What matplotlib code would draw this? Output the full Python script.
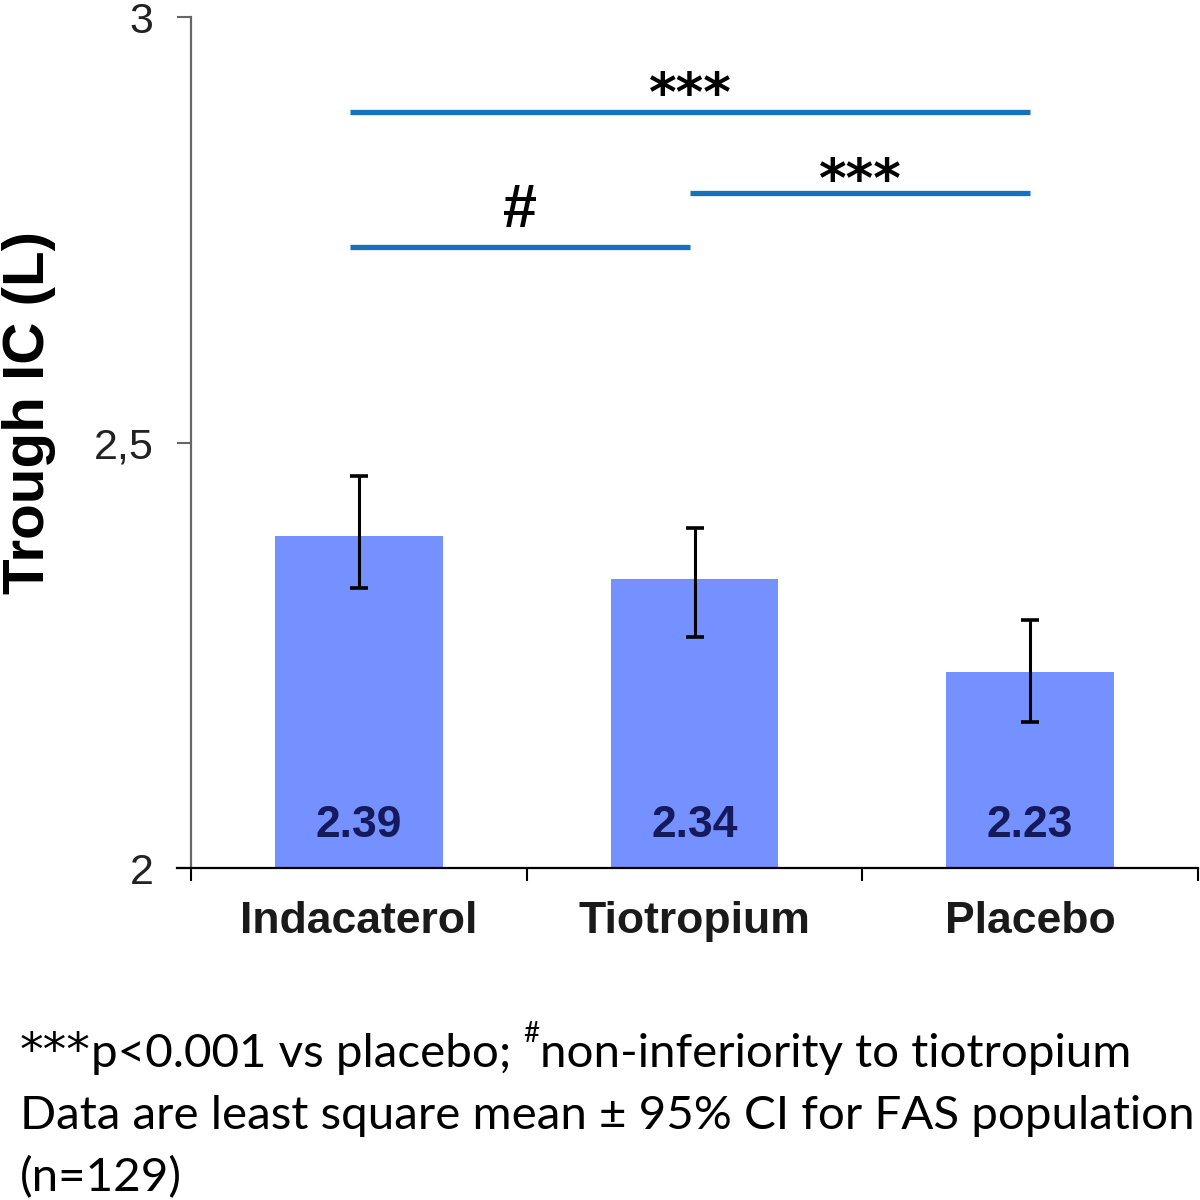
import matplotlib
matplotlib.use("Agg")
import matplotlib.pyplot as plt

# values
treatments = ["Indacaterol", "Tiotropium", "Placebo"]
means = [2.39, 2.34, 2.23]
ci_low = [2.329, 2.271, 2.171]
ci_high = [2.461, 2.400, 2.291]
value_labels = ["2.39", "2.34", "2.23"]

# significance brackets: (from, to, height, mark)
brackets = [(0, 2, 2.888, "***"), (1, 2, 2.793, "***"), (0, 1, 2.730, "#")]

y_ticks = [2, 2.5, 3]
y_tick_labels = ["2", "2,5", "3"]

bar_color = "#7590FF"
line_color = "#1570BE"

fig = plt.figure(figsize=(12, 12), dpi=100)
ax = fig.add_axes([191 / 1200, 1 - 868 / 1200, 1007 / 1200, 851 / 1200])

x = list(range(len(treatments)))
err = [[m - lo for m, lo in zip(means, ci_low)],
       [hi - m for m, hi in zip(means, ci_high)]]
ax.bar(x, [m - 2 for m in means], bottom=2, width=0.5, color=bar_color, zorder=2)
ax.errorbar(x, means, yerr=err, fmt="none", ecolor="black", elinewidth=2.2,
            capsize=6.5, capthick=2.6, zorder=3)

for xi, lab in zip(x, value_labels):
    ax.text(xi, 2.05, lab, ha="center", va="center", fontsize=32,
            fontweight="bold", color="#141a5c", family="Liberation Sans", zorder=4)

# label offsets (dx, dy) for each bracket mark
mark_offsets = [(0.0, -0.011), (0.0, -0.018), (0.0, 0.023)]
for (i, j, h, mark), (dx, dy) in zip(brackets, mark_offsets):
    x0 = i - 0.027 if i == 0 else i - 0.014
    x1 = j - 0.014 if j == 1 else j
    ax.plot([x0, x1], [h, h], color=line_color, lw=3.8, solid_capstyle="butt",
            zorder=2)
    xm = (x0 + x1) / 2 + dx
    if mark == "#":
        ax.text(0.48, h + dy, mark, ha="center", va="baseline",
                fontsize=44, fontweight="bold", family="Liberation Sans")
    else:
        ax.text(xm, h + dy, mark, ha="center", va="bottom",
                fontsize=38, fontweight="bold", family="DejaVu Sans")

ax.set_xlim(-0.5, 2.5)
ax.set_ylim(2, 3)

ax.set_yticks(y_ticks)
ax.set_yticklabels(y_tick_labels, fontsize=31, color="#222222",
                   family="Liberation Sans")
ax.tick_params(axis="y", length=10, width=1.5, color="#666666", pad=17)

ax.set_xticks([-0.5, 0.5, 1.5, 2.5])
ax.set_xticklabels([])
ax.set_xticks(x, minor=True)
ax.set_xticklabels(treatments, minor=True, fontsize=32, fontweight="bold",
                   color="#1a1a1a", family="Liberation Sans")
ax.tick_params(axis="x", which="major", length=9, width=1.5, color="black")
ax.tick_params(axis="x", which="minor", length=0, pad=24)

for side in ["top", "right"]:
    ax.spines[side].set_visible(False)
ax.spines["left"].set_color("#666666")
ax.spines["left"].set_linewidth(1.6)
ax.spines["bottom"].set_color("black")
ax.spines["bottom"].set_linewidth(1.6)
ax.spines["bottom"].set_bounds(-0.5 - 14 / 335.7, 2.5)

fig.text(0.047, 0.656, "Trough IC (L)", rotation=90, ha="right", va="center",
         fontsize=42, fontweight="bold", family="Liberation Sans")

# footnote
foot = dict(fontsize=34.2, family="Lato", color="black")
t0 = fig.text(20 / 1200, 1 - 1075 / 1200, "***", ha="left", va="bottom",
              fontsize=34, family="DejaVu Sans")
t1 = plt.annotate("p<0.001 vs placebo; ", xy=(1, 0), xycoords=t0,
                  ha="left", va="bottom", **foot)
sup = plt.annotate("#", xy=(1, 0), xycoords=t1, xytext=(0, 20),
                   textcoords="offset points", ha="left", va="bottom",
                   fontsize=20, family="Lato")
plt.annotate("non-inferiority to tiotropium", xy=(1, 0), xycoords=(sup, t1),
             ha="left", va="bottom", **foot)
fig.text(20 / 1200, 1 - 1137 / 1200,
         "Data are least square mean \u00b1 95% CI for FAS population",
         ha="left", va="bottom", **foot)
fig.text(20 / 1200, 1 - 1199 / 1200, "(n=129)", ha="left", va="bottom", **foot)

fig.savefig("out.png", dpi=100)
